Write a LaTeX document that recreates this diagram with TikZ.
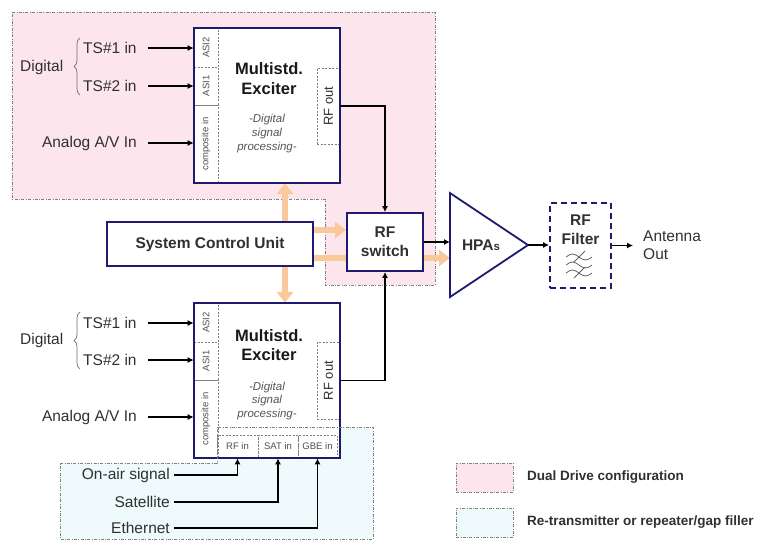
\documentclass[tikz,border=0pt]{standalone}
\usepackage{fontspec}
\setmainfont{Liberation Sans}
\usetikzlibrary{arrows.meta,decorations.pathreplacing}
\definecolor{navy}{HTML}{1E1B6E}
\definecolor{pinkbg}{HTML}{FDE5EE}
\definecolor{cyanbg}{HTML}{EEFAFC}
\definecolor{orng}{HTML}{F9C99C}
\definecolor{txt}{HTML}{303030}
\definecolor{dsh}{HTML}{808080}
\definecolor{itx}{HTML}{555555}
\pgfdeclarelayer{regions}
\pgfdeclarelayer{flows}
\pgfsetlayers{regions,flows,main}
\begin{document}
\begin{tikzpicture}[x=1pt,y=-1pt,
  region/.style={draw=dsh, line width=0.6pt, dash pattern=on 3pt off 1.5pt on 0.7pt off 1.5pt},
  blk/.style={draw=navy, line width=1.8pt, fill=white, inner sep=0pt},
  exbox/.style={fill=white, inner sep=0pt, minimum width=146, minimum height=155},
  port/.style={draw=dsh, line width=0.6pt, dash pattern=on 2pt off 1.5pt, inner sep=0pt},
  lbl/.style={text=txt, font=\fontsize{15.5}{18}\selectfont, inner sep=0pt},
  blbl/.style={text=txt, font=\bfseries\fontsize{15.5}{19}\selectfont, inner sep=0pt, align=center},
  ttl/.style={text=black!90, font=\bfseries\fontsize{16.5}{19.5}\selectfont, inner sep=0pt, align=center},
  dsp/.style={text=itx, font=\itshape\fontsize{11.5}{13.7}\selectfont, inner sep=0pt, align=center},
  plbl/.style={text=txt!85, font=\fontsize{9.5}{10.5}\selectfont, inner sep=0pt},
  rflbl/.style={text=txt, font=\fontsize{13}{15}\selectfont, inner sep=0pt, rotate=90},
  leg/.style={text=txt, font=\bfseries\fontsize{13.5}{16}\selectfont, inner sep=0pt, anchor=west},
  arr/.style={draw=black, line width=1.6pt, -{Latex[length=6pt,width=6pt]}},
  oarr/.style={draw=orng, line width=5.5pt, -{Triangle[length=11pt,width=16pt]}},
  brc/.style={draw=txt!70, line width=0.7pt, decorate, decoration={brace, amplitude=6pt}},
  wave/.style={draw=txt!75, line width=0.8pt},
]
\useasboundingbox (0,0) rectangle (760,542);

% ---------- regions ----------
\begin{pgfonlayer}{regions}
  \fill[pinkbg] (12,12) -- (435,12) -- (435,285) -- (325,285) -- (325,199) -- (12,199) -- cycle;
  \draw[region] (12,12) -- (435,12) -- (435,285) -- (325,285) -- (325,199) -- (12,199) -- cycle;
  \fill[cyanbg] (60,463) -- (217,463) -- (217,427) -- (373,427) -- (373,539) -- (60,539) -- cycle;
\end{pgfonlayer}

% ---------- top exciter ----------
\node[exbox] (ex1) at (267,105.5) {};
\node[port, minimum width=24, minimum height=39] (p1a) at (206,47.5) {};
\node[port, minimum width=24, minimum height=38] (p1b) at (206,86) {};
\node[port, minimum width=24, minimum height=78] (p1c) at (206,144) {};
\node[port, minimum width=23, minimum height=76] (rfo1) at (328.5,106) {};
\draw[navy, line width=1.8pt] (ex1.north west) rectangle (ex1.south east);
\node[plbl, rotate=90] at (p1a) {ASI2};
\node[plbl, rotate=90] at (p1b) {ASI1};
\node[plbl, rotate=90] at (p1c) {composite in};
\node[rflbl] at (rfo1) {RF out};
\node[ttl] (t1) at (269,78.5) {Multistd.\\Exciter};
\node[dsp] (d1) at (267,133.5) {-Digital\\signal\\processing-};

% ---------- bottom exciter ----------
\node[exbox] (ex2) at (267,380.5) {};
\node[port, minimum width=24, minimum height=39] (p2a) at (206,322.5) {};
\node[port, minimum width=24, minimum height=38] (p2b) at (206,361) {};
\node[port, minimum width=24, minimum height=78] (p2c) at (206,419) {};
\node[port, minimum width=23, minimum height=77] (rfo2) at (328.5,380.5) {};
\node[port, minimum width=41, minimum height=23] (rfin) at (237.5,446.5) {};
\node[port, minimum width=40, minimum height=23] (sat) at (278,446.5) {};
\node[port, minimum width=39, minimum height=23] (gbe) at (317.5,446.5) {};
\draw[navy, line width=1.8pt] (ex2.north west) rectangle (ex2.south east);
\node[plbl, rotate=90] at (p2a) {ASI2};
\node[plbl, rotate=90] at (p2b) {ASI1};
\node[plbl, rotate=90] at (p2c) {composite in};
\node[rflbl] at (rfo2) {RF out};
\node[plbl] at (rfin) {RF in};
\node[plbl] at (sat) {SAT in};
\node[plbl] at (gbe) {GBE in};
\node[ttl] (t2) at (269,345) {Multistd.\\Exciter};
\node[dsp] (d2) at (267,401) {-Digital\\signal\\processing-};

% cyan region border (over the exciter)
\draw[region] (60,463) -- (217,463) -- (217,427) -- (373,427) -- (373,539) -- (60,539) -- cycle;

% ---------- control unit, switch, HPA, filter ----------
\node[blk, minimum width=206, minimum height=44] (scu) at (210,244) {};
\node[blbl] at (scu) {System Control Unit};
\node[blk, minimum width=76, minimum height=58] (rfsw) at (385,242) {};
\node[blbl] at (rfsw) {RF\\switch};

\coordinate (hpaT) at (450,193);
\coordinate (hpaB) at (450,297);
\coordinate (hpaA) at (528,245);
\draw[navy, line width=1.8pt, line join=miter] (hpaT) -- (hpaA) -- (hpaB) -- cycle;
\node[blbl] (hpat) at (481,245) {HPA{\fontsize{11.5}{13}\selectfont s}};

\node[draw=navy, line width=1.8pt, dash pattern=on 6pt off 4pt, inner sep=0pt,
      minimum width=61, minimum height=85] (filt) at (580.5,245.5) {};
\node[blbl] (filtt) at (580.5,230) {RF\\Filter};
\foreach \yy in {257,265,273} {
  \draw[wave] (566,\yy) sin (572.5,\yy-3) cos (579,\yy) sin (585.5,\yy+3) cos (592,\yy);
}
\draw[wave] (574,262) -- (585,251);
\draw[wave] (574,278) -- (585,267);

\coordinate (ant) at (633,245.5);
\node[lbl, align=left, anchor=west] (antt) at (643,245) {Antenna\\Out};

% ---------- orange control flows ----------
\coordinate (vx) at (285,0);
\coordinate (oy1) at (0,230);
\coordinate (oy2) at (0,258);
\begin{pgfonlayer}{flows}
  \draw[oarr, {Triangle[length=11pt,width=16pt]}-{Triangle[length=11pt,width=16pt]}] (ex1.south -| vx) -- (ex2.north -| vx);
  \draw[oarr] (scu.east |- oy1) -- (rfsw.west |- oy1);
  \draw[oarr] (scu.east |- oy2) -- (hpaT |- oy2);
\end{pgfonlayer}

% ---------- inputs, top ----------
\node[lbl, anchor=west] (dig1) at (20,67) {Digital};
\draw[brc] (80,95) -- (80,38);
\node[lbl, anchor=west] (ts1a) at (83,48) {TS\#1 in};
\node[lbl, anchor=west] (ts2a) at (83,86) {TS\#2 in};
\node[lbl, anchor=east] (ana1) at (137,143) {Analog A/V In};
\draw[arr] ([xshift=11pt]ts1a.east) -- (ts1a.east -| p1a.west);
\draw[arr] ([xshift=11pt]ts2a.east) -- (ts2a.east -| p1b.west);
\draw[arr] ([xshift=11pt]ana1.east) -- (ana1.east -| p1c.west);

% ---------- inputs, bottom ----------
\node[lbl, anchor=west] (dig2) at (20,340) {Digital};
\draw[brc] (80,369) -- (80,312);
\node[lbl, anchor=west] (ts1b) at (83,323) {TS\#1 in};
\node[lbl, anchor=west] (ts2b) at (83,360) {TS\#2 in};
\node[lbl, anchor=east] (ana2) at (137,417) {Analog A/V In};
\draw[arr] ([xshift=11pt]ts1b.east) -- (ts1b.east -| p2a.west);
\draw[arr] ([xshift=11pt]ts2b.east) -- (ts2b.east -| p2b.west);
\draw[arr] ([xshift=11pt]ana2.east) -- (ana2.east -| p2c.west);

\node[lbl, anchor=east] (onair) at (170,475) {On-air signal};
\node[lbl, anchor=east] (satl) at (170,502) {Satellite};
\node[lbl, anchor=east] (eth) at (170,528) {Ethernet};
\draw[arr] ([xshift=4pt]onair.east) -| (rfin.south);
\draw[arr] ([xshift=4pt]satl.east) -| (sat.south);
\draw[arr] ([xshift=4pt]eth.east) -| (gbe.south);

% ---------- RF path ----------
\draw[arr] (rfo1.east) -| (rfsw.north);
\draw[arr] (rfo2.east) -| (rfsw.south);
\draw[arr] (rfsw.east) -- (rfsw.east -| hpaT);
\draw[arr] (hpaA) -- (hpaA -| filt.west);
\draw[arr] (filt.east) -- (ant);

% ---------- legend ----------
\node[region, fill=pinkbg, inner sep=0pt, minimum width=57, minimum height=29] (legp) at (484.5,477.5) {};
\node[leg] (legpt) at (527,477) {Dual Drive configuration};
\node[region, fill=cyanbg, inner sep=0pt, minimum width=57, minimum height=29] (legc) at (484.5,522.5) {};
\node[leg] (legct) at (527,522) {Re-transmitter or repeater/gap filler};
\end{tikzpicture}
\end{document}
